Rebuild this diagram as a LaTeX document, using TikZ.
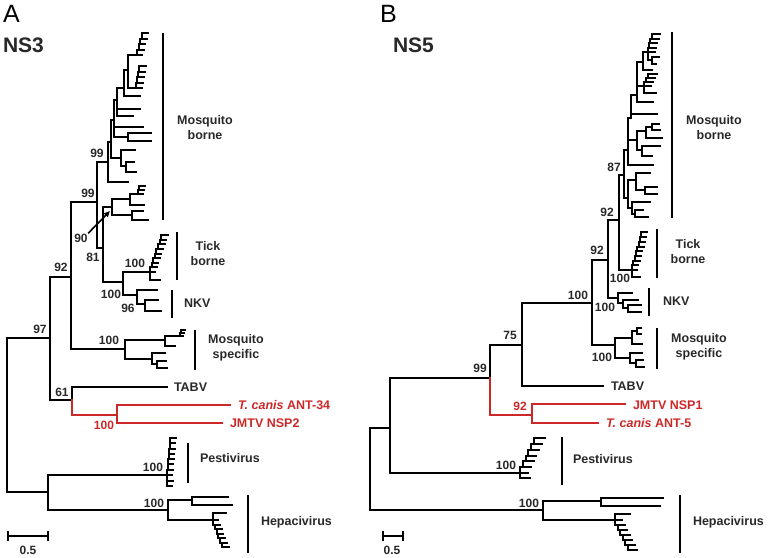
\documentclass[tikz,border=0pt]{standalone}
\usepackage{fontspec}
\setmainfont{Liberation Sans}
\usetikzlibrary{arrows.meta}
\definecolor{jmtv}{RGB}{204,40,40}
\definecolor{ink}{RGB}{40,40,40}
% comb of short tips: start, steps, dx, dy, tip length
\newcommand\ladder[5]{%
  \foreach \k in {0,...,#2}
    \draw ([shift={({\k*#3},{\k*#4})}]#1) -- ++(#5,0);
  \foreach \k in {1,...,#2}
    \draw ([shift={({(\k-1)*#3},{(\k-1)*#4})}]#1) |- ++(#3,#4);
}

\begin{document}
\begin{tikzpicture}[x=1pt,y=-1pt,line width=2pt,line cap=rect,
  bs/.style={font=\bfseries\fontsize{12}{12}\selectfont,text=ink,inner sep=0pt},
  rbs/.style={bs,text=jmtv},
  grp/.style={font=\bfseries\fontsize{12.5}{15}\selectfont,text=ink,align=center,inner sep=0pt},
  leaf/.style={grp,anchor=west},
  rleaf/.style={leaf,text=jmtv},
  bar/.style={line width=2.2pt,line cap=butt},
  jline/.style={draw=jmtv}]
\useasboundingbox (0,0) rectangle (768,557);

% panel titles
\node[anchor=north west,inner sep=0pt,font=\fontsize{25}{25}\selectfont] (pA) at (2,4) {A};
\node[anchor=west,inner sep=0pt,font=\bfseries\fontsize{21}{21}\selectfont,text=ink] (tA) at (2,45) {NS3};
\node[anchor=north west,inner sep=0pt,font=\fontsize{25}{25}\selectfont] (pB) at (379,4) {B};
\node[anchor=west,inner sep=0pt,font=\bfseries\fontsize{21}{21}\selectfont,text=ink] (tB) at (392,45) {NS5};

%%%%%%%%%%%%%%%% NS3 %%%%%%%%%%%%%%%%
\coordinate (aR) at (7,415);
\coordinate (a97) at (50,338);
\coordinate (a92) at (71,277);
\coordinate (a99b) at (97,202);
\coordinate (a99a) at (108,162);
\coordinate (am1) at (111,142);
\coordinate (am2) at (114,120);
\coordinate (am3) at (117,100);
\coordinate (am4) at (124,88);
\coordinate (am5) at (128,70);
\coordinate (ac1) at (137,55);
\coordinate (ac2) at (136,88);
\coordinate (al12) at (140,96);
\coordinate (al14) at (140,109);
\coordinate (al15) at (133,116);
\coordinate (al16) at (143,127);
\coordinate (as3) at (128,137);
\coordinate (al17) at (151,133);
\coordinate (al18) at (151,141);
\coordinate (as1) at (121,158);
\coordinate (al19) at (135,150);
\coordinate (as2) at (126,166);
\coordinate (al21) at (134,162);
\coordinate (al22) at (136,172);
\coordinate (al23) at (128,182);
\coordinate (a81) at (103,248);
\coordinate (a90) at (112,207);
\coordinate (a90a) at (130,199);
\coordinate (ac3) at (138,194);
\coordinate (al24) at (144,205);
\coordinate (a90b) at (132,215);
\coordinate (al25) at (143,211);
\coordinate (al26) at (148,220);
\coordinate (aTN) at (123,282);
\coordinate (atb) at (150,272);
\coordinate (atb1) at (160,280);
\coordinate (akv) at (137,295);
\coordinate (akv1) at (157,290);
\coordinate (akv2) at (145,304);
\coordinate (akv3) at (158,300);
\coordinate (akv4) at (161,311);
\coordinate (aMS) at (125,349);
\coordinate (amsA) at (165,340);
\coordinate (amsC) at (180,336);
\coordinate (ams1) at (175,346);
\coordinate (amsB) at (152,359);
\coordinate (ams2) at (165,353);
\coordinate (amsD) at (157,364);
\coordinate (ams3) at (166,361);
\coordinate (ams4) at (167,368);
\coordinate (a61) at (72,400);
\coordinate (aTABV) at (167,387);
\coordinate (ared) at (117,415);
\coordinate (aTc) at (230,405);
\coordinate (aJM) at (222,423);
\coordinate (aPH) at (48,492);
\coordinate (aP) at (167,475);
\coordinate (aP1) at (173,481);
\coordinate (aP2) at (172,486);
\coordinate (aH) at (168,510);
\coordinate (aH1) at (192,500);
\coordinate (aH3) at (228,497);
\coordinate (aH4) at (232,505);
\coordinate (aH2) at (213,520);
\coordinate (aH5) at (226,513);

\foreach \p/\c in {aR/a97, aR/aPH, a97/a92, a97/a61, a92/a99b, a92/aMS,
    a99b/a99a, a99b/a81, a99a/am1, a99a/al23, am1/am2, am1/as1,
    as1/al19, as1/as2, as2/al21, as2/al22, am2/am3, am2/al16, am2/as3,
    as3/al17, as3/al18, am3/am4, am3/al14, am3/al15, am4/am5, am4/al12,
    am5/ac1, am5/ac2, a81/a90, a81/aTN, a90/a90a, a90/a90b, a90a/ac3,
    a90a/al24, a90b/al25, a90b/al26, aTN/atb, aTN/akv, atb/atb1,
    akv/akv1, akv/akv2, akv2/akv3, akv2/akv4, aMS/amsA, aMS/amsB,
    amsA/amsC, amsA/ams1, amsB/ams2, amsB/amsD, amsD/ams3, amsD/ams4,
    a61/aTABV, aPH/aP, aPH/aH, aP/aP1, aP/aP2, aH/aH1, aH/aH2,
    aH1/aH3, aH1/aH4, aH2/aH5}
  \draw (\p) |- (\c);
\foreach \p/\c in {a61/ared, ared/aTc, ared/aJM}
  \draw[jline] (\p) |- (\c);
\ladder{ac1}{4}{1.5}{-5.5}{5}
\ladder{ac2}{4}{1}{-5.5}{6}
\ladder{ac3}{2}{1}{-4}{5}
\ladder{atb}{8}{1.6}{-4.6}{5}
\ladder{amsC}{2}{0.8}{-3}{3}
\ladder{aP}{7}{0.5}{-5.3}{5}
\ladder{aH2}{6}{1.8}{4.5}{5}

% clade bars
\draw[bar] (163,33) -- (163,220);
\draw[bar] (177,232) -- (177,280);
\draw[bar] (172,290) -- (172,318);
\draw[bar] (195,330) -- (195,370);
\draw[bar] (188,443) -- (188,483);
\draw[bar] (248,495) -- (248,553);

\node[grp] (gMBa) at (205,128) {Mosquito\\borne};
\node[grp] (gTBa) at (208,254) {Tick\\borne};
\node[leaf] (gNKa) at (183,303) {NKV};
\node[grp] (gMSa) at (236,348) {Mosquito\\specific};
\node[leaf] (gPa) at (199,458) {Pestivirus};
\node[leaf] (gHa) at (260,522) {Hepacivirus};
\node[leaf] (lTABVa) at (173,387) {TABV};
\node[rleaf] (lTca) at (237,405) {\itshape T. canis\upshape{} ANT-34};
\node[rleaf] (lJMa) at (229,423) {JMTV NSP2};

% support values
\node[bs] (s1) at (97,153) {99};
\node[bs] (s2) at (88,193) {99};
\node[bs] (l90) at (81,238) {90};
\node[bs] (s4) at (93,257) {81};
\node[bs] (s5) at (135,263) {100};
\node[bs] (s6) at (111,294) {100};
\node[bs] (s7) at (128,308) {96};
\node[bs] (s8) at (61,267) {92};
\node[bs] (s9) at (40,329) {97};
\node[bs] (s10) at (109,340) {100};
\node[bs] (s11) at (62,392) {61};
\node[rbs] (s12) at (104,425) {100};
\node[bs] (s13) at (153,467) {100};
\node[bs] (s14) at (154,503) {100};
\draw[line width=1.6pt,-{Triangle[length=6pt,width=5pt]}] (l90.north east) -- ([shift={(-2,4)}]a90);

% scale bar
\draw (8,532) -- (8,540) (8,536) -- (48,536) (48,532) -- (48,540);
\node[bs] (scA) at (28,550) {0.5};

%%%%%%%%%%%%%%%% NS5 %%%%%%%%%%%%%%%%
\coordinate (bR) at (370,469);
\coordinate (bN1) at (390,428);
\coordinate (b99) at (490,378);
\coordinate (b75) at (522,345);
\coordinate (bred) at (532,415);
\coordinate (bJM) at (625,404);
\coordinate (bTc) at (598,423);
\coordinate (bTABV) at (603,386);
\coordinate (b100) at (592,303);
\coordinate (b92a) at (608,260);
\coordinate (b92b) at (619,220);
\coordinate (b87) at (624,175);
\coordinate (bm1) at (628,150);
\coordinate (bm2) at (631,118);
\coordinate (bm3) at (637,95);
\coordinate (bm4) at (643,62);
\coordinate (bc1) at (648,52);
\coordinate (bc1b) at (652,60);
\coordinate (bq1) at (659,57);
\coordinate (bq2) at (656,64);
\coordinate (bq3) at (652,70);
\coordinate (bt2) at (644,86);
\coordinate (bq4) at (656,93);
\coordinate (bq5) at (653,102);
\coordinate (bq6) at (657,114);
\coordinate (bmid) at (637,140);
\coordinate (bs1) at (646,131);
\coordinate (bs1a) at (652,127);
\coordinate (bq7) at (659,124);
\coordinate (bq8) at (660,130);
\coordinate (bq9) at (662,138);
\coordinate (bs2) at (642,150);
\coordinate (bq10) at (660,146);
\coordinate (bq11) at (652,156);
\coordinate (bq12) at (653,165);
\coordinate (bl) at (628,198);
\coordinate (bl1) at (636,180);
\coordinate (bq13) at (650,173);
\coordinate (bl1a) at (645,190);
\coordinate (bq14) at (657,187);
\coordinate (bq15) at (657,194);
\coordinate (bl2) at (632,208);
\coordinate (bq16) at (650,202);
\coordinate (bl2a) at (635,214);
\coordinate (bq17) at (643,210);
\coordinate (bq18) at (648,217);
\coordinate (btb) at (632,270);
\coordinate (btb1) at (640,277);
\coordinate (bkv) at (618,298);
\coordinate (bkv1) at (632,293);
\coordinate (bkv2) at (623,303);
\coordinate (bkv3) at (638,300);
\coordinate (bkv4) at (628,308);
\coordinate (bkv5) at (641,305);
\coordinate (bkv6) at (641,312);
\coordinate (bMS) at (615,345);
\coordinate (bms1) at (632,338);
\coordinate (bms1a) at (637,331);
\coordinate (bms3) at (641,328);
\coordinate (bms4) at (641,334);
\coordinate (bms5) at (642,344);
\coordinate (bms2) at (630,358);
\coordinate (bms6) at (642,353);
\coordinate (bms2a) at (636,363);
\coordinate (bms7) at (643,360);
\coordinate (bms8) at (644,367);
\coordinate (bP) at (520,473);
\coordinate (bP1) at (530,478);
\coordinate (bH) at (543,510);
\coordinate (bH1) at (601,501);
\coordinate (bH3) at (663,498);
\coordinate (bH4) at (660,506);
\coordinate (bH2) at (615,520);
\coordinate (bH5) at (630,514);

\foreach \p/\c in {bR/bN1, bR/bH, bN1/b99, bN1/bP, b99/b75, b75/b100,
    b75/bTABV, b100/b92a, b100/bMS, b92a/b92b, b92a/bkv, b92b/b87,
    b92b/btb, b87/bm1, b87/bl, bm1/bm2, bm1/bmid, bm1/bq12, bm2/bm3,
    bm2/bq6, bm3/bm4, bm3/bt2, bm3/bq5, bm4/bc1, bm4/bq3, bc1/bc1b,
    bc1b/bq1, bc1b/bq2, bt2/bq4, bmid/bs1, bmid/bs2, bs1/bs1a, bs1/bq9,
    bs1a/bq7, bs1a/bq8, bs2/bq10, bs2/bq11, bl/bl1, bl/bl2, bl1/bq13,
    bl1/bl1a, bl1a/bq14, bl1a/bq15, bl2/bq16, bl2/bl2a, bl2a/bq17,
    bl2a/bq18, btb/btb1, bkv/bkv1, bkv/bkv2, bkv2/bkv3, bkv2/bkv4,
    bkv4/bkv5, bkv4/bkv6, bMS/bms1, bMS/bms2, bms1/bms1a, bms1/bms5,
    bms1a/bms3, bms1a/bms4, bms2/bms6, bms2/bms2a, bms2a/bms7,
    bms2a/bms8, bP/bP1, bH/bH1, bH/bH2, bH1/bH3, bH1/bH4, bH2/bH5}
  \draw (\p) |- (\c);
\foreach \p/\c in {b99/bred, bred/bJM, bred/bTc}
  \draw[jline] (\p) |- (\c);
\ladder{bc1}{4}{1.2}{-4.5}{7}
\ladder{bt2}{3}{2}{-4}{7}
\ladder{btb}{8}{1.3}{-4.7}{5}
\ladder{bP}{6}{2.8}{-5.8}{8}
\ladder{bH2}{6}{2.5}{5}{7}

% clade bars
\draw[bar] (672,32) -- (672,218);
\draw[bar] (657,229) -- (657,278);
\draw[bar] (649,288) -- (649,316);
\draw[bar] (657,328) -- (657,369);
\draw[bar] (562,437) -- (562,485);
\draw[bar] (680,495) -- (680,553);

\node[grp] (gMBb) at (714,128) {Mosquito\\borne};
\node[grp] (gTBb) at (688,252) {Tick\\borne};
\node[leaf] (gNKb) at (662,301) {NKV};
\node[grp] (gMSb) at (699,347) {Mosquito\\specific};
\node[leaf] (gPb) at (572,459) {Pestivirus};
\node[leaf] (gHb) at (692,522) {Hepacivirus};
\node[leaf] (lTABVb) at (610,386) {TABV};
\node[rleaf] (lJMb) at (632,405) {JMTV NSP1};
\node[rleaf] (lTcb) at (605,423) {\itshape T. canis\upshape{} ANT-5};

% support values
\node[bs] (t1) at (480,368) {99};
\node[bs] (t2) at (510,335) {75};
\node[rbs] (t3) at (520,406) {92};
\node[bs] (t4) at (578,295) {100};
\node[bs] (t5) at (597,250) {92};
\node[bs] (t6) at (607,212) {92};
\node[bs] (t7) at (614,167) {87};
\node[bs] (t8) at (620,278) {100};
\node[bs] (t9) at (605,307) {100};
\node[bs] (t10) at (602,357) {100};
\node[bs] (t11) at (506,465) {100};
\node[bs] (t12) at (529,503) {100};

% scale bar
\draw (383,532) -- (383,540) (383,536) -- (403,536) (403,532) -- (403,540);
\node[bs] (scB) at (392,550) {0.5};
\end{tikzpicture}
\end{document}
